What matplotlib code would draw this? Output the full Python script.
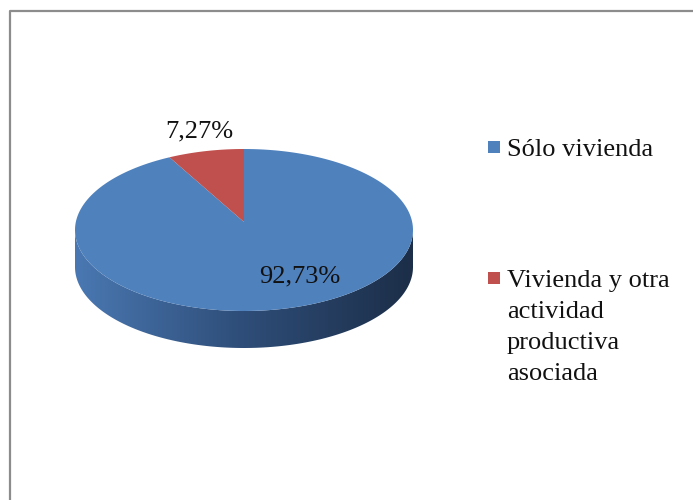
import numpy as np
import matplotlib.pyplot as plt
from matplotlib.patches import Polygon, Rectangle
from matplotlib.colors import LinearSegmentedColormap

plt.rcParams['font.family'] = ['Liberation Serif', 'DejaVu Serif']

# data
labels = ['Sólo vivienda', 'Vivienda y otra\nactividad\nproductiva\nasociada']
values = [92.73, 7.27]
pct_labels = ['92,73%', '7,27%']
colors = ['#4F81BD', '#C0504D']

fig = plt.figure(figsize=(6.93, 5.0), dpi=100)
ax = fig.add_axes([0, 0, 1, 1])
ax.set_xlim(0, 693)
ax.set_ylim(500, 0)
ax.axis('off')

# chart area border (only top and left visible in the crop)
ax.plot([9.5, 9.5, 693], [500, 11, 11], color='#8c8c8c', lw=1.6, solid_capstyle='butt')

# 3D pie geometry (pixel space); apex sits a bit above ellipse centre (perspective)
cx, cy, rx, ry, depth = 244, 230, 169, 81, 37
apex_y = 222


def arc(t0, t1, dy=0, n=200):
    t = np.radians(np.linspace(t0, t1, n))
    return np.column_stack([cx + rx * np.cos(t), cy + dy - ry * np.sin(t)])


# slice angles, clockwise from 12 o'clock
fracs = np.array(values) / np.sum(values)
ends = 90 - 360 * np.cumsum(fracs)
starts = np.concatenate([[90], ends[:-1]])

# front side walls (visible part is angles -180..0)
side_cmaps = {
    '#4F81BD': ['#4a78b2', '#2e4d78', '#1c2e48'],
    '#C0504D': ['#b24a47', '#7a2f2d', '#4a1c1b'],
}
for s, e, c in zip(starts, ends, colors):
    lo, hi = e, s
    for shift in (0, 360, -360):
        a0 = max(lo + shift, -180)
        a1 = min(hi + shift, 0)
        if a1 <= a0:
            continue
        top = arc(a0, a1)
        bot = arc(a1, a0, dy=depth)
        poly = Polygon(np.vstack([top, bot]), closed=True, facecolor='none', edgecolor='none')
        ax.add_patch(poly)
        cmap = LinearSegmentedColormap.from_list('side', side_cmaps[c])
        grad = np.linspace(0, 1, 256).reshape(1, -1)
        im = ax.imshow(grad, cmap=cmap, aspect='auto',
                       extent=[cx - rx, cx + rx, cy + ry + depth, cy - ry],
                       interpolation='bilinear', zorder=1)
        im.set_clip_path(poly)

# top faces
for s, e, c in zip(starts, ends, colors):
    pts = np.vstack([[cx, apex_y], arc(s, e)])
    ax.add_patch(Polygon(pts, closed=True, facecolor=c, edgecolor='none', zorder=2))

# percentage labels
ax.text(300, 282, pct_labels[0], ha='center', va='baseline', fontsize=19, color='#111111', zorder=3)
ax.text(199, 137, pct_labels[1], ha='center', va='baseline', fontsize=19, color='#111111', zorder=3)

# legend
leg_baselines = [156, 287]
for lab, c, yb in zip(labels, colors, leg_baselines):
    ax.add_patch(Rectangle((488, yb - 15), 12, 12, facecolor=c, edgecolor='none'))
    for i, line in enumerate(lab.split('\n')):
        ax.text(507, yb + i * 31, line, ha='left', va='baseline', fontsize=19, color='#111111')

fig.savefig('out.png', dpi=100)
